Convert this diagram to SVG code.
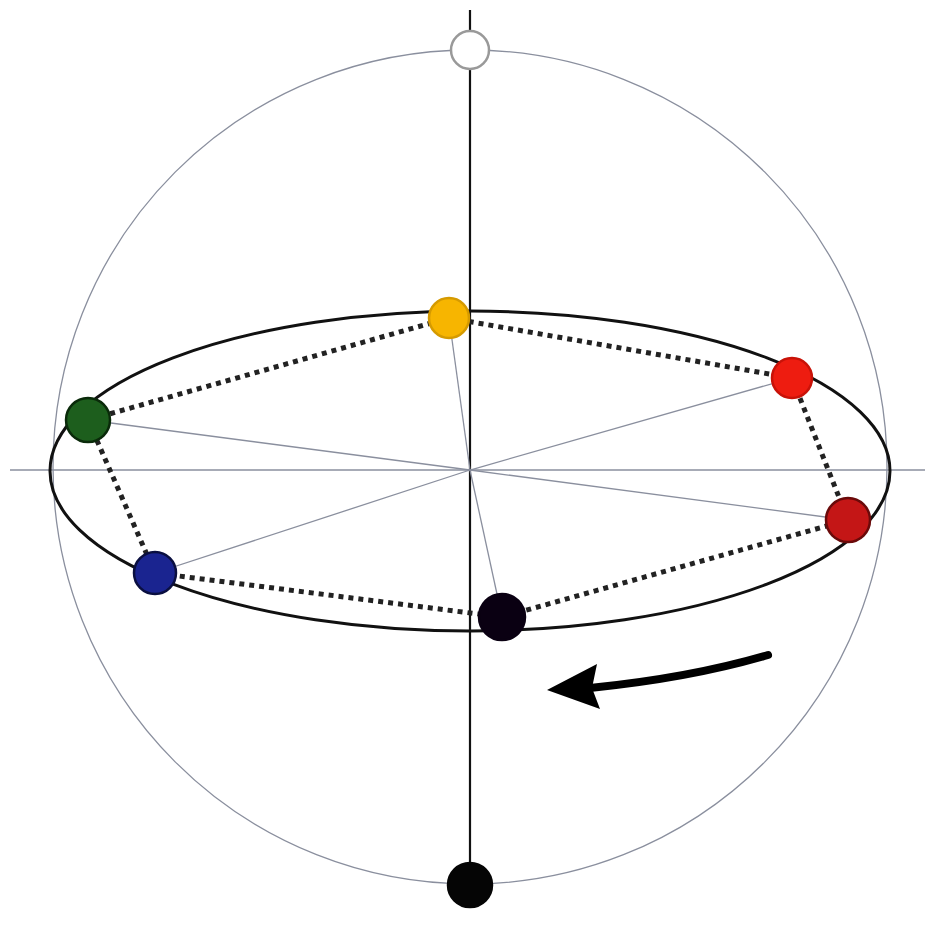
<svg xmlns="http://www.w3.org/2000/svg" width="928" height="936" viewBox="0 0 928 936">
<style>
.thin{fill:none;stroke:#8a8f9e;stroke-width:1.3}
.axis{fill:none;stroke:#111;stroke-width:2.2}
.orbit{fill:none;stroke:#111;stroke-width:3}
.dots{fill:none;stroke:#222;stroke-width:5;stroke-dasharray:5 5}
.node{stroke-width:2.5}
</style>
<rect width="928" height="936" fill="#fff"/>
<g id="sphere">
<circle class="thin" cx="470" cy="467" r="417"/>
</g>
<g id="axes">
<line class="thin" x1="10" y1="470" x2="925" y2="470"/>
<line class="axis" x1="470" y1="10" x2="470" y2="908"/>
</g>
<g id="orbit">
<ellipse class="orbit" cx="470" cy="471" rx="420" ry="160"/>
</g>
<g id="connectors">
<g class="thin">
<line x1="470" y1="470" x2="449" y2="318"/>
<line x1="470" y1="470" x2="792" y2="378"/>
<line x1="470" y1="470" x2="848" y2="520"/>
<line x1="470" y1="470" x2="502" y2="617"/>
<line x1="470" y1="470" x2="155" y2="573"/>
<line x1="470" y1="470" x2="88" y2="420"/>
</g>
<polygon class="dots" points="449,318 792,378 848,520 502,617 155,573 88,420"/>
</g>
<g id="n-top"><circle class="node" cx="470" cy="50" r="19" fill="#fff" stroke="#999"/></g>
<g id="n-bottom"><circle class="node" cx="470" cy="885" r="22" fill="#050505" stroke="#050505"/></g>
<g id="n-yellow"><circle class="node" cx="449" cy="318" r="20" fill="#f7b500" stroke="#d59a00"/></g>
<g id="n-red1"><circle class="node" cx="792" cy="378" r="20" fill="#ee1c10" stroke="#c81208"/></g>
<g id="n-red2"><circle class="node" cx="848" cy="520" r="22" fill="#c41616" stroke="#6a0a0a"/></g>
<g id="n-black"><circle class="node" cx="502" cy="617" r="23" fill="#0a0012" stroke="#0a0012"/></g>
<g id="n-blue"><circle class="node" cx="155" cy="573" r="21" fill="#1a2490" stroke="#0a0f40"/></g>
<g id="n-green"><circle class="node" cx="88" cy="420" r="22" fill="#1d5e1d" stroke="#0a2a0a"/></g>
<g id="arrow">
<path d="M768,655 Q690,678 590,688" fill="none" stroke="#000" stroke-width="8" stroke-linecap="round"/>
<polygon points="547,690 597,664 592,688 600,709" fill="#000"/>
</g>
</svg>
